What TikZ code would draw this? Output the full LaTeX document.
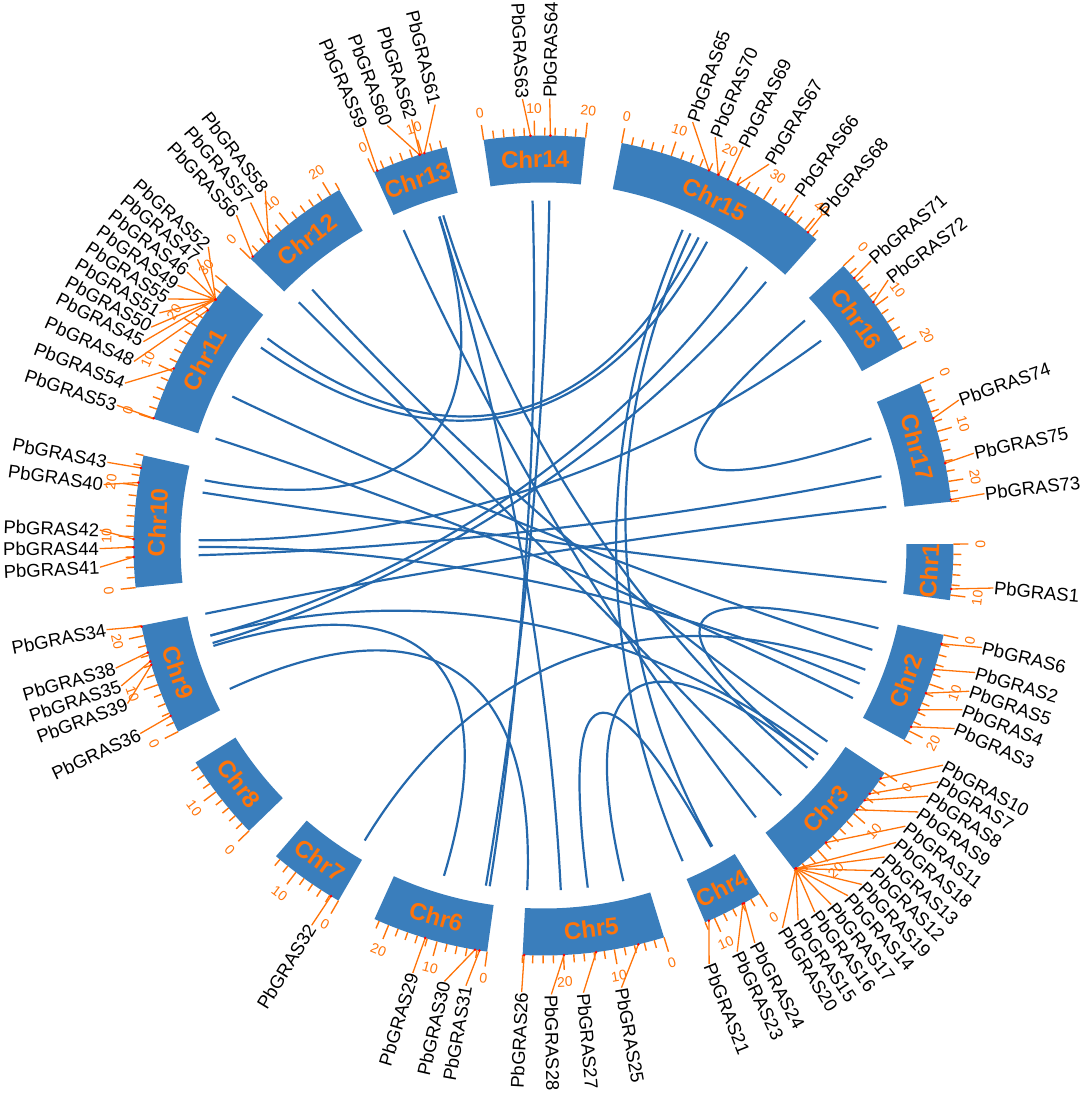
\documentclass[tikz,border=0pt]{standalone}
\usepackage{fontspec}
\setmainfont{Liberation Sans}
\usepackage{tikz}
\definecolor{chrblue}{RGB}{58,126,188}
\definecolor{linkblue}{RGB}{36,104,172}
\definecolor{mkorange}{RGB}{255,116,10}

\begin{document}
\begin{tikzpicture}[x=1pt,y=1pt,
	chrbox/.style={fill=chrblue},
	chrlab/.style={text=mkorange,font=\bfseries\fontsize{24}{26}\selectfont,inner sep=0pt},
	tickline/.style={draw=mkorange,line width=1.4pt},
	ticklab/.style={text=mkorange,font=\fontsize{14}{16}\selectfont,inner sep=0pt},
	geneline/.style={draw=mkorange,line width=1.3pt},
	genelab/.style={font=\fontsize{18.5}{20}\selectfont,inner sep=0.5pt},
	link/.style={draw=linkblue,line width=2.2pt}]

	\useasboundingbox (-543.5,-548.5) rectangle (540.5,545.5);

	% chromosomes: start angle / length / number
	\foreach \cs/\cl/\cn in {0.2/11/1,-12.6/22/2,-33.7/26/3,-58.2/12/4,-72.9/28/5,-97.9/23/6,
		-120.0/15/7,-135.9/17/8,-153.0/22/9,-174.1/26/10,162.0/30/11,135.6/22/12,
		114.4/15/13,98.4/20/14,79.0/43/15,43.0/20/16,23.3/24/17}{
		\pgfmathsetmacro\ce{\cs-0.715*\cl}
		\pgfmathsetmacro\cm{\cs-0.3575*\cl}
		\pgfmathsetmacro\cmr{mod(\cm+720,180)-90}
		\fill[chrbox] (\cs:363pt) arc[start angle=\cs,end angle=\ce,radius=363pt]
			-- (\ce:410pt) arc[start angle=\ce,end angle=\cs,radius=410pt] -- cycle;
		\node[chrlab,rotate=\cmr] (chr\cn) at (\cm:386.5pt) {Chr\cn};
		\pgfmathtruncatemacro\nt{\cl/2}
		\foreach \kk in {0,...,\nt}{
			\pgfmathtruncatemacro\tv{2*\kk}
			\pgfmathsetmacro\ta{\cs-0.715*\tv}
			\pgfmathtruncatemacro\mj{mod(\tv,10)}
			\ifnum\mj=0
				\pgfmathsetmacro\tr{mod(\ta+720,180)-90}
				\draw[tickline] (\ta:410pt) -- (\ta:425pt);
				\node[ticklab,rotate=\tr] (t\cn-\tv) at (\ta:437pt) {\tv};
			\else
				\draw[tickline] (\ta:410pt) -- (\ta:418pt);
			\fi
		}
	}

	% genes: chromosome start / position / label angle / label radius / number
	\foreach \gs/\gp/\gl/\gd/\gn in {0.2/8.8/-5.4/452/1,
		-12.6/1.8/-13.1/450/6,-12.6/7.0/-16.4/450/2,-12.6/11.9/-18.9/450/5,-12.6/15.4/-21.4/450/4,-12.6/19.1/-24.0/450/3,
		-33.7/1.3/-28.8/456/10,-33.7/5.0/-30.9/460/7,-33.7/6.6/-33.1/459/8,-33.7/9.0/-35.4/460/9,-33.7/17.8/-37.8/458/11,
		-33.7/25.6/-40.1/461/18,-33.7/25.6/-42.4/462/13,-33.7/25.6/-44.6/463/12,-33.7/25.6/-46.8/465/19,
		-33.7/25.6/-49.0/464/14,-33.7/25.6/-51.3/460/17,-33.7/25.6/-53.5/456/16,-33.7/25.6/-55.8/453/15,-33.7/25.6/-58.0/451/20,
		-58.2/3.5/-62.0/450/24,-58.2/3.8/-64.5/450/23,-58.2/11.2/-68.4/450/21,
		-72.9/5.2/-80.0/449/25,-72.9/13.6/-84.9/449/27,-72.9/19.9/-89.0/449/28,-72.9/27.7/-92.8/447/26,
		-97.9/1.5/-100.0/447/31,-97.9/2.4/-102.8/447/30,-97.9/12.4/-107.0/447/29,
		-120.0/1.7/-121.4/445/32,
		-153.0/3.4/-155.0/445/36,-153.0/14.1/-159.2/445/39,-153.0/14.8/-161.6/445/35,-153.0/16.6/-164.0/445/38,-153.0/21.8/-169.1/445/34,
		185.9/6.0/182.8/444/41,185.9/7.9/180.4/444/44,185.9/9.5/178.0/444/42,185.9/20.6/172.1/444/40,185.9/23.5/169.2/444/43,
		162.0/0.1/161.8/449/53,162.0/10.6/158.8/449/54,162.0/23.8/155.8/449/48,162.0/26.4/153.0/449/45,162.0/26.4/150.9/449/50,
		162.0/26.4/148.8/449/51,162.0/26.4/146.7/449/55,162.0/26.4/144.6/449/49,162.0/26.4/142.5/449/46,
		162.0/26.4/140.4/449/47,162.0/26.4/138.3/449/52,
		135.6/0.6/132.9/451/56,135.6/4.9/130.5/451/57,135.6/4.9/128.1/451/58,
		114.4/0.7/113.4/455/59,114.4/9.5/110.4/448/60,114.4/9.6/107.2/446/62,114.4/10.5/103.8/454/61,
		98.4/9.2/92.7/447/63,98.4/13.1/89.2/447/64,
		79.0/17.9/70.6/449/65,79.0/19.9/67.2/443/70,79.0/22.0/63.4/446/69,79.0/24.2/59.4/443/67,79.0/35.2/54.0/433/66,79.0/40.8/49.9/433/68,
		43.0/3.2/41.0/434/71,43.0/9.2/37.6/435/72,
		23.3/7.3/19.3/440/74,23.3/16.4/12.1/440/75,23.3/23.6/6.7/444/73}{
		\pgfmathsetmacro\ga{\gs-0.715*\gp}
		\pgfmathsetmacro\gr{mod(\gl+810,180)-90}
		\pgfmathtruncatemacro\side{cos(\gl)>=0}
		\coordinate (d\gn) at (\ga:410pt);
		\coordinate (e\gn) at (\ga:345pt);
		\coordinate (k\gn) at (\ga:125pt);
		\coordinate (w\gn) at (\gl:\gd pt);
		\draw[geneline] (d\gn) -- (w\gn);
		\fill[red] (d\gn) circle (1.4pt);
		\ifnum\side=1
			\node[genelab,rotate=\gr,anchor=west] (n\gn) at (w\gn) {PbGRAS\gn};
		\else
			\node[genelab,rotate=\gr,anchor=east] (n\gn) at (w\gn) {PbGRAS\gn};
		\fi
	}

	% links between gene pairs
	\foreach \la/\lb in {71/74,63/31,64/30,65/21,70/24,69/52,67/48,66/38,68/35,72/42,
		75/41,73/34,59/20,60/43,61/9,62/28,56/11,57/10,54/2,53/3,29/39,32/5,
		23/27,6/8,40/1,44/4,38/7,8/25,36/26}
		\draw[link] (e\la) .. controls (k\la) and (k\lb) .. (e\lb);

\end{tikzpicture}
\end{document}
